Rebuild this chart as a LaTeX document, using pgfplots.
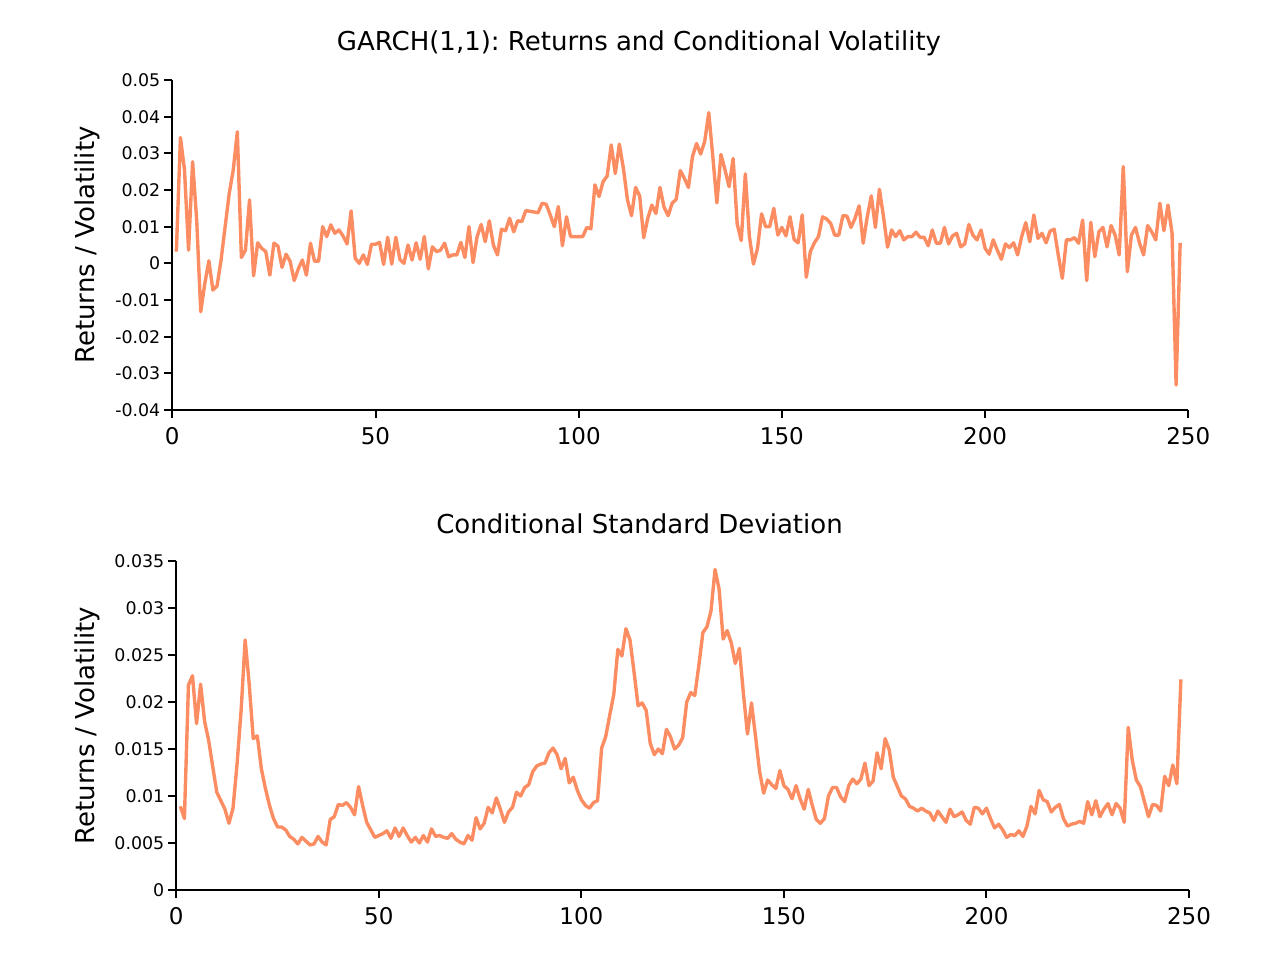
\documentclass[border=0pt]{standalone}
\usepackage{fontspec}
\setmainfont{DejaVu Sans}
\usepackage{pgfplots}
\pgfplotsset{compat=1.18}
\frenchspacing
\definecolor{line}{HTML}{FC8D62}
\pgfplotsset{
  garch/.style={
    scale only axis,
    xmin=0, xmax=250,
    axis x line=bottom, axis y line=left,
    axis line style={-, line width=1pt, black},
    tick align=outside,
    major tick length=4pt,
    every tick/.style={black, line width=1pt},
    xtick={0,50,100,150,200,250},
    scaled y ticks=false, scaled x ticks=false,
    /pgf/number format/assume math mode=true,
    xticklabel style={font=\fontsize{11.5pt}{13pt}\selectfont, inner ysep=4.5pt},
    yticklabel style={font=\fontsize{8.7pt}{10pt}\selectfont, inner xsep=1.8pt},
    every axis title shift=0pt,
    title style={font=\fontsize{13pt}{15pt}\selectfont\frenchspacing, anchor=center},
    ylabel style={font=\fontsize{13pt}{15pt}\selectfont, anchor=center},
    ylabel={Returns / Volatility},
    clip=false,
  }
}
\begin{document}
\begin{tikzpicture}
\useasboundingbox (0,0) rectangle (640pt,480pt);
\begin{axis}[garch,
  at={(86.15pt,275pt)}, anchor=south west,
  width=508pt, height=165pt,
  ymin=-0.04, ymax=0.05,
  ytick={-0.04,-0.03,-0.02,-0.01,0,0.01,0.02,0.03,0.04,0.05},
  yticklabels={-0.04,-0.03,-0.02,-0.01,0,0.01,0.02,0.03,0.04,0.05},
  title={GARCH(1,1): Returns and Conditional Volatility},
  title style={at={(axis description cs:0.4593,1.112)}},
  ylabel style={at={(axis description cs:-0.0835,0.5)}},
]
\addplot[line, line width=1.7pt, line join=round, no markers] coordinates {
(1,0.0032)(2,0.0343)(3,0.0255)(4,0.0036)(5,0.0277)(6,0.0118)(7,-0.0132)(8,-0.0055)(9,0.0007)(10,-0.0073)
(11,-0.0062)(12,0.0009)(13,0.0100)(14,0.0190)(15,0.0255)(16,0.0359)(17,0.0016)(18,0.0036)(19,0.0173)(20,-0.0034)
(21,0.0056)(22,0.0041)(23,0.0032)(24,-0.0032)(25,0.0055)(26,0.0047)(27,-0.0011)(28,0.0025)(29,0.0005)(30,-0.0047)
(31,-0.0015)(32,0.0009)(33,-0.0032)(34,0.0055)(35,0.0006)(36,0.0006)(37,0.0100)(38,0.0073)(39,0.0105)(40,0.0082)
(41,0.0091)(42,0.0075)(43,0.0053)(44,0.0143)(45,0.0014)(46,0.0000)(47,0.0023)(48,-0.0003)(49,0.0052)(50,0.0052)
(51,0.0057)(52,-0.0003)(53,0.0071)(54,-0.0002)(55,0.0071)(56,0.0011)(57,0.0000)(58,0.0050)(59,0.0009)(60,0.0056)
(61,0.0011)(62,0.0073)(63,-0.0015)(64,0.0045)(65,0.0032)(66,0.0036)(67,0.0055)(68,0.0018)(69,0.0023)(70,0.0023)
(71,0.0057)(72,0.0016)(73,0.0100)(74,0.0002)(75,0.0073)(76,0.0106)(77,0.0059)(78,0.0116)(79,0.0050)(80,0.0023)
(81,0.0093)(82,0.0089)(83,0.0123)(84,0.0086)(85,0.0116)(86,0.0114)(87,0.0144)(88,0.0142)(89,0.0140)(90,0.0138)
(91,0.0164)(92,0.0161)(93,0.0132)(94,0.0100)(95,0.0155)(96,0.0048)(97,0.0127)(98,0.0073)(99,0.0073)(100,0.0073)
(101,0.0073)(102,0.0098)(103,0.0094)(104,0.0214)(105,0.0182)(106,0.0223)(107,0.0238)(108,0.0323)(109,0.0245)(110,0.0325)
(111,0.0259)(112,0.0173)(113,0.0130)(114,0.0207)(115,0.0184)(116,0.0070)(117,0.0123)(118,0.0159)(119,0.0136)(120,0.0207)
(121,0.0153)(122,0.0130)(123,0.0164)(124,0.0175)(125,0.0253)(126,0.0232)(127,0.0207)(128,0.0291)(129,0.0327)(130,0.0298)
(131,0.0332)(132,0.0411)(133,0.0291)(134,0.0165)(135,0.0297)(136,0.0255)(137,0.0209)(138,0.0286)(139,0.0107)(140,0.0062)
(141,0.0244)(142,0.0073)(143,-0.0002)(144,0.0041)(145,0.0135)(146,0.0100)(147,0.0100)(148,0.0150)(149,0.0077)(150,0.0098)
(151,0.0075)(152,0.0127)(153,0.0065)(154,0.0056)(155,0.0132)(156,-0.0038)(157,0.0032)(158,0.0056)(159,0.0073)(160,0.0127)
(161,0.0121)(162,0.0109)(163,0.0077)(164,0.0077)(165,0.0130)(166,0.0129)(167,0.0098)(168,0.0123)(169,0.0157)(170,0.0055)
(171,0.0127)(172,0.0184)(173,0.0098)(174,0.0202)(175,0.0127)(176,0.0044)(177,0.0091)(178,0.0073)(179,0.0089)(180,0.0064)
(181,0.0073)(182,0.0073)(183,0.0085)(184,0.0071)(185,0.0071)(186,0.0048)(187,0.0091)(188,0.0055)(189,0.0055)(190,0.0098)
(191,0.0053)(192,0.0075)(193,0.0082)(194,0.0045)(195,0.0053)(196,0.0106)(197,0.0077)(198,0.0064)(199,0.0091)(200,0.0041)
(201,0.0025)(202,0.0064)(203,0.0036)(204,0.0011)(205,0.0053)(206,0.0043)(207,0.0056)(208,0.0023)(209,0.0073)(210,0.0111)
(211,0.0059)(212,0.0132)(213,0.0068)(214,0.0082)(215,0.0056)(216,0.0088)(217,0.0093)(218,0.0023)(219,-0.0041)(220,0.0064)
(221,0.0064)(222,0.0070)(223,0.0055)(224,0.0118)(225,-0.0047)(226,0.0112)(227,0.0018)(228,0.0086)(229,0.0098)(230,0.0045)
(231,0.0103)(232,0.0077)(233,0.0023)(234,0.0264)(235,-0.0023)(236,0.0077)(237,0.0098)(238,0.0055)(239,0.0023)(240,0.0103)
(241,0.0086)(242,0.0064)(243,0.0164)(244,0.0089)(245,0.0159)(246,0.0082)(247,-0.0332)(248,0.0056)
};
\end{axis}
\begin{axis}[garch,
  at={(88.15pt,35pt)}, anchor=south west,
  width=506.35pt, height=164.5pt,
  ymin=0, ymax=0.035,
  ytick={0,0.005,0.01,0.015,0.02,0.025,0.03,0.035},
  yticklabels={0,0.005,0.01,0.015,0.02,0.025,0.03,0.035},
  title={Conditional Standard Deviation},
  title style={at={(axis description cs:0.4574,1.1125)}},
  ylabel style={at={(axis description cs:-0.0877,0.5)}},
]
\addplot[line, line width=1.7pt, line join=round, no markers] coordinates {
(1,0.0089)(2,0.0076)(3,0.0218)(4,0.0228)(5,0.0177)(6,0.0219)(7,0.0179)(8,0.0159)(9,0.0131)(10,0.0104)
(11,0.0095)(12,0.0086)(13,0.0071)(14,0.0087)(15,0.0134)(16,0.0191)(17,0.0266)(18,0.0219)(19,0.0161)(20,0.0164)
(21,0.0129)(22,0.0108)(23,0.0090)(24,0.0076)(25,0.0067)(26,0.0067)(27,0.0064)(28,0.0057)(29,0.0054)(30,0.0049)
(31,0.0056)(32,0.0052)(33,0.0048)(34,0.0049)(35,0.0057)(36,0.0051)(37,0.0048)(38,0.0075)(39,0.0078)(40,0.0091)
(41,0.0090)(42,0.0093)(43,0.0088)(44,0.0080)(45,0.0110)(46,0.0090)(47,0.0072)(48,0.0064)(49,0.0056)(50,0.0058)
(51,0.0060)(52,0.0063)(53,0.0055)(54,0.0066)(55,0.0057)(56,0.0066)(57,0.0058)(58,0.0051)(59,0.0056)(60,0.0050)
(61,0.0058)(62,0.0051)(63,0.0065)(64,0.0057)(65,0.0058)(66,0.0056)(67,0.0055)(68,0.0060)(69,0.0054)(70,0.0051)
(71,0.0049)(72,0.0058)(73,0.0053)(74,0.0077)(75,0.0065)(76,0.0071)(77,0.0088)(78,0.0082)(79,0.0098)(80,0.0086)
(81,0.0072)(82,0.0083)(83,0.0088)(84,0.0104)(85,0.0100)(86,0.0109)(87,0.0112)(88,0.0126)(89,0.0132)(90,0.0134)
(91,0.0135)(92,0.0146)(93,0.0151)(94,0.0144)(95,0.0129)(96,0.0140)(97,0.0114)(98,0.0120)(99,0.0106)(100,0.0096)
(101,0.0090)(102,0.0087)(103,0.0093)(104,0.0095)(105,0.0151)(106,0.0163)(107,0.0186)(108,0.0208)(109,0.0256)(110,0.0249)
(111,0.0278)(112,0.0266)(113,0.0232)(114,0.0196)(115,0.0199)(116,0.0191)(117,0.0156)(118,0.0144)(119,0.0150)(120,0.0145)
(121,0.0171)(122,0.0163)(123,0.0150)(124,0.0154)(125,0.0162)(126,0.0200)(127,0.0210)(128,0.0207)(129,0.0239)(130,0.0274)
(131,0.0280)(132,0.0297)(133,0.0341)(134,0.0320)(135,0.0267)(136,0.0276)(137,0.0263)(138,0.0241)(139,0.0257)(140,0.0209)
(141,0.0166)(142,0.0199)(143,0.0163)(144,0.0126)(145,0.0103)(146,0.0117)(147,0.0112)(148,0.0108)(149,0.0127)(150,0.0111)
(151,0.0107)(152,0.0097)(153,0.0111)(154,0.0097)(155,0.0086)(156,0.0107)(157,0.0090)(158,0.0075)(159,0.0071)(160,0.0076)
(161,0.0100)(162,0.0109)(163,0.0109)(164,0.0099)(165,0.0094)(166,0.0111)(167,0.0118)(168,0.0113)(169,0.0118)(170,0.0135)
(171,0.0111)(172,0.0116)(173,0.0146)(174,0.0129)(175,0.0161)(176,0.0149)(177,0.0120)(178,0.0110)(179,0.0100)(180,0.0097)
(181,0.0089)(182,0.0087)(183,0.0084)(184,0.0087)(185,0.0084)(186,0.0082)(187,0.0074)(188,0.0084)(189,0.0078)(190,0.0072)
(191,0.0086)(192,0.0078)(193,0.0080)(194,0.0083)(195,0.0074)(196,0.0070)(197,0.0088)(198,0.0087)(199,0.0081)(200,0.0087)
(201,0.0076)(202,0.0066)(203,0.0070)(204,0.0064)(205,0.0056)(206,0.0059)(207,0.0058)(208,0.0063)(209,0.0057)(210,0.0068)
(211,0.0089)(212,0.0081)(213,0.0106)(214,0.0096)(215,0.0094)(216,0.0083)(217,0.0088)(218,0.0091)(219,0.0076)(220,0.0068)
(221,0.0070)(222,0.0071)(223,0.0073)(224,0.0071)(225,0.0094)(226,0.0080)(227,0.0095)(228,0.0078)(229,0.0086)(230,0.0092)
(231,0.0080)(232,0.0092)(233,0.0087)(234,0.0072)(235,0.0173)(236,0.0138)(237,0.0117)(238,0.0110)(239,0.0094)(240,0.0078)
(241,0.0091)(242,0.0090)(243,0.0084)(244,0.0121)(245,0.0111)(246,0.0133)(247,0.0113)(248,0.0224)
};
\end{axis}
\end{tikzpicture}
\end{document}
